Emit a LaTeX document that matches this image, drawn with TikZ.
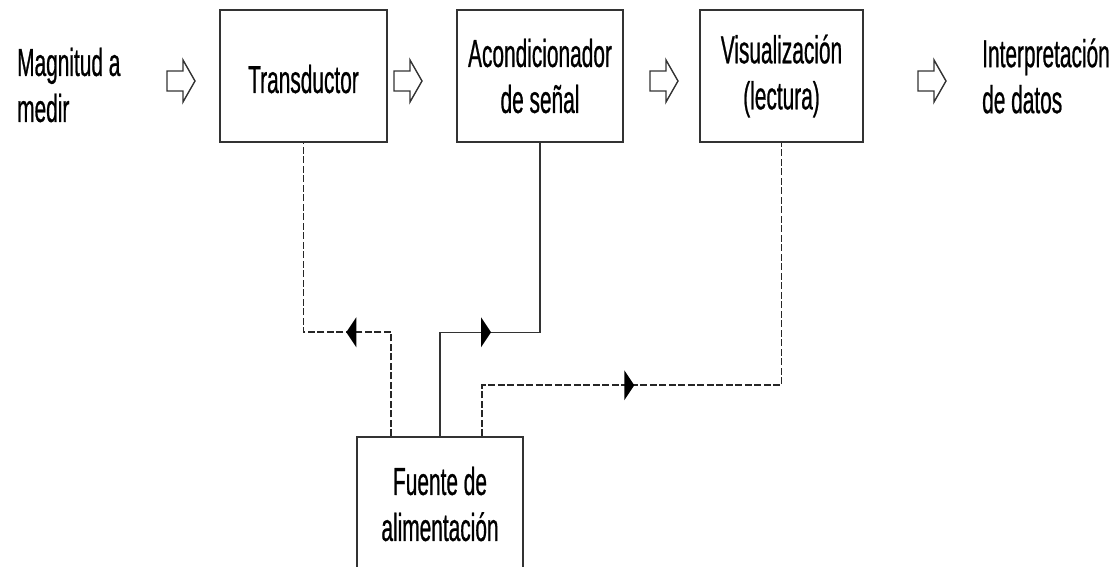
\documentclass[tikz,border=0pt]{standalone}
\usepackage{fontspec}
\newfontfamily\narrowfont{Liberation Sans}[FakeStretch=0.535,FakeBold=0.6]
\usetikzlibrary{decorations.markings}
\definecolor{linegray}{HTML}{333333}
\tikzset{
  txt/.style={font=\narrowfont\fontsize{39}{46}\selectfont, text=black, inner sep=0pt},
  blockbox/.style={draw=linegray, line width=1.5pt, rectangle, inner sep=0pt, align=center,
    font=\narrowfont\fontsize{39}{46}\selectfont},
  dline/.style={draw=black!85, line width=1.7pt, dash pattern=on 7pt off 2.5pt},
  sline/.style={draw=linegray, line width=1.5pt},
  midarrow/.style={postaction=decorate, decoration={markings,
    mark=at position #1 with {\fill[black] (0,-15) -- (10,0) -- (0,15) -- cycle;}}},
  blockarrow/.pic={\draw[linegray, line width=1.4pt, line join=miter]
    (0,-10) -- (16,-10) -- (16,-21) -- (28,0) -- (16,21) -- (16,10) -- (0,10) -- cycle;}
}
\begin{document}
\begin{tikzpicture}[x=1pt,y=-1pt]
\useasboundingbox (0,0) rectangle (1118,567);
\clip (0,0) rectangle (1118,567);

% input / output texts
\node[txt, anchor=west, align=left] (mag) at (17,85) {Magnitud a\\medir};
\node[txt, anchor=west, align=left] (interp) at (982,76) {Interpretación\\de datos};

% main blocks
\node[blockbox, minimum width=167pt, minimum height=132pt, text height=34pt, text depth=0pt] (trans) at (303.5,76) {Transductor};
\node[blockbox, minimum width=166pt, minimum height=132pt] (acond) at (540,76) {Acondicionador\\de señal};
\node[blockbox, minimum width=163pt, minimum height=132pt] (vis) at (781.5,76) {Visualización\\(lectura)};

% power supply
\node[blockbox, minimum width=166pt, minimum height=163pt] (fuente) at (440,518.5) {};
\node[txt, align=center] (fuentetxt) at (440,504) {Fuente de\\alimentación};

% hollow block arrows
\pic (a1) at (167,81) {blockarrow};
\pic (a2) at (394,81) {blockarrow};
\pic (a3) at (650,81) {blockarrow};
\pic (a4) at (918,81) {blockarrow};

% supply connectors
\draw[dline, midarrow=139pt] ([xshift=35pt]fuente.north west) -- ++(0,-104) -| (trans.south);
\draw[sline, midarrow=145pt] (fuente.north) -- ++(0,-104) -| (acond.south);
\draw[dline, midarrow=193pt] ([xshift=126pt]fuente.north west) -- ++(0,-51) -| (vis.south);
\end{tikzpicture}
\end{document}
